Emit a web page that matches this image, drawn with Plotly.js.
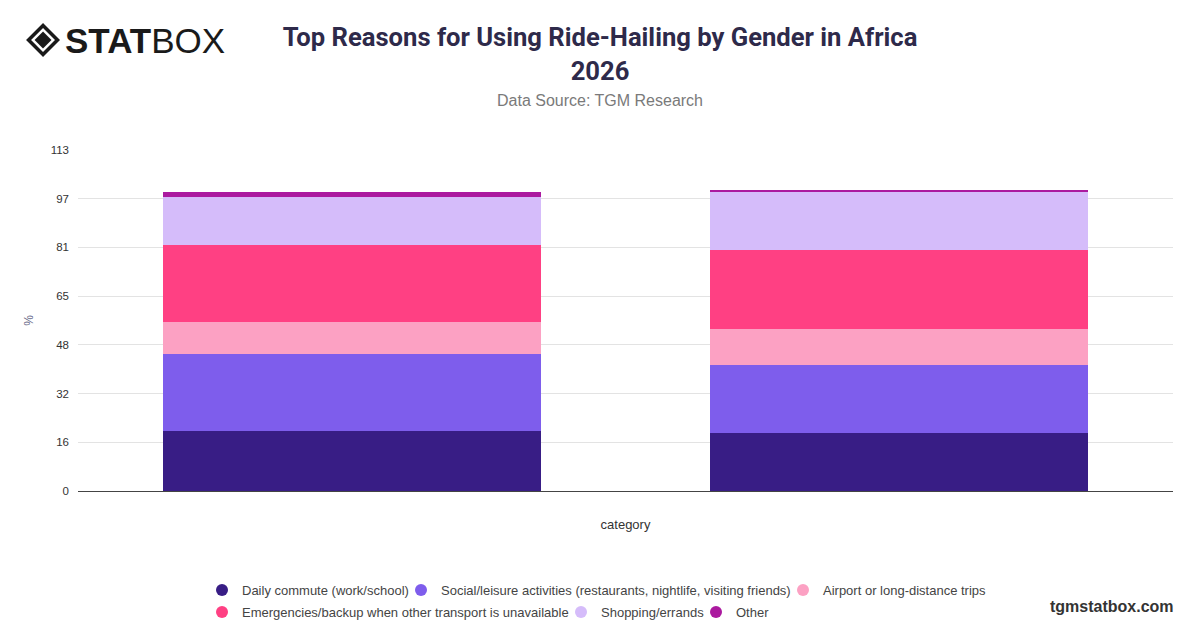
<!DOCTYPE html>
<html>
<head>
<meta charset="utf-8">
<script src="https://cdn.plot.ly/plotly-3.0.1.min.js"></script>
<style>
html,body{margin:0;padding:0;background:#fff;}
#chart{width:1200px;height:628px;}
</style>
</head>
<body>
<div id="chart"></div>
<script>
// Data
const categories = ["Male", "Female"];
const seriesNames = [
  "Daily commute (work/school)",
  "Social/leisure activities (restaurants, nightlife, visiting friends)",
  "Airport or long-distance trips",
  "Emergencies/backup when other transport is unavailable",
  "Shopping/errands",
  "Other"
];
const dailyCommute = [20.0, 19.2];
const socialLeisure = [25.3, 22.7];
const airportTrips = [10.6, 11.8];
const emergencies = [25.6, 26.3];
const shopping = [16.0, 19.2];
const other = [1.7, 0.6];
const yTickMax = 113;
const yTickCount = 7;

const seriesValues = [dailyCommute, socialLeisure, airportTrips, emergencies, shopping, other];
const colors = ["#381d85", "#7e5dec", "#fca1c3", "#ff4083", "#d5bcfa", "#ab1a9f"];

// legend entry layout (pixel position of each legend marker centre)
const legendMarkerX = [222, 421, 803, 222, 581, 716];
const legendRowY = [590, 590, 590, 612, 612, 612];

const traces = [];
seriesValues.forEach((vals, i) => {
  traces.push({
    type: "bar",
    x: categories,
    y: vals,
    name: seriesNames[i],
    marker: {color: colors[i], line: {width: 0}},
    showlegend: false,
    hoverinfo: "name+y"
  });
});
// legend entries with circular markers (one legend per entry for exact placement)
const legendIds = seriesValues.map((v, i) => i === 0 ? "legend" : "legend" + (i + 1));
seriesValues.forEach((vals, i) => {
  traces.push({
    type: "scatter",
    mode: "markers",
    x: [null],
    y: [null],
    name: seriesNames[i],
    legend: legendIds[i],
    marker: {color: colors[i], size: 14, symbol: "circle"},
    showlegend: true,
    hoverinfo: "skip"
  });
});

// helpers: pixel -> paper coords (plot area l=78, w=1096, top=150, bottom=491)
const PX = px => (px - 78) / 1096;
const PY = py => (491 - py) / 341;

function diamond(cx, cy, half) {
  const hx = half / 1096, hy = half / 341;
  const x = PX(cx), y = PY(cy);
  return `M ${x - hx} ${y} L ${x} ${y + hy} L ${x + hx} ${y} L ${x} ${y - hy} Z`;
}

const legendBase = {
  orientation: "h",
  xref: "container",
  yref: "container",
  xanchor: "left",
  yanchor: "middle",
  font: {size: 13, color: "#444444"},
  itemsizing: "constant",
  traceorder: "normal",
  bgcolor: "rgba(0,0,0,0)"
};

const layout = {
  width: 1200,
  height: 628,
  paper_bgcolor: "#ffffff",
  plot_bgcolor: "#ffffff",
  barmode: "stack",
  bargap: 0.31,
  margin: {l: 78, r: 27, t: 150, b: 137},
  font: {family: "Liberation Sans, Arial, sans-serif", color: "#333333", size: 12},
  title: {
    text: "<b>Top Reasons for Using Ride-Hailing by Gender in Africa<br>2026</b>",
    x: 0.5, xref: "container", xanchor: "center",
    y: 0.926, yref: "container", yanchor: "top",
    font: {family: "Roboto, Liberation Sans, sans-serif", size: 25.6, color: "#2e2a4a"}
  },
  xaxis: {
    type: "category",
    showticklabels: false,
    showgrid: false,
    showline: true,
    linecolor: "#444444",
    linewidth: 1,
    ticks: "",
    title: {text: "category", font: {size: 13, color: "#333333"}, standoff: 28},
    range: [-0.5, 1.5]
  },
  yaxis: {
    range: [0, yTickMax],
    tickmode: "linear",
    tick0: 0,
    dtick: yTickMax / yTickCount,
    tickformat: ".0f",
    showgrid: true,
    gridcolor: "#e3e3e3",
    gridwidth: 1,
    zeroline: false,
    showline: false,
    ticks: "",
    ticklabelstandoff: 8,
    tickfont: {size: 11.5, color: "#333333"},
    title: {text: "%", font: {size: 12, color: "#6a6a8a"}, standoff: 14}
  },
  annotations: [
    {
      text: "Data Source: TGM Research",
      xref: "paper", yref: "paper",
      x: PX(600), y: PY(101), xanchor: "center", yanchor: "middle",
      showarrow: false,
      font: {size: 16, color: "#7a7a7a"}
    },
    {
      text: "<b>tgmstatbox.com</b>",
      xref: "paper", yref: "paper",
      x: PX(1177), y: PY(606), xanchor: "right", yanchor: "middle",
      showarrow: false,
      font: {size: 16, color: "#333333"}
    },
    {
      text: "<b>STAT</b>BOX",
      xref: "paper", yref: "paper",
      x: PX(63), y: PY(40), xanchor: "left", yanchor: "middle",
      showarrow: false,
      font: {family: "Liberation Sans, Arial, sans-serif", size: 35, color: "#1a1a1a"}
    }
  ],
  shapes: [
    {type: "path", xref: "paper", yref: "paper", path: diamond(43, 40, 17), fillcolor: "#1a1a1a", line: {width: 0}},
    {type: "path", xref: "paper", yref: "paper", path: diamond(43, 40, 12), fillcolor: "#ffffff", line: {width: 0}},
    {type: "path", xref: "paper", yref: "paper", path: diamond(43, 40, 8.5), fillcolor: "#1a1a1a", line: {width: 0}}
  ]
};

legendIds.forEach((id, i) => {
  layout[id] = Object.assign({}, legendBase, {
    x: (legendMarkerX[i] - 20) / 1200,
    y: 1 - legendRowY[i] / 628
  });
});

Plotly.newPlot("chart", traces, layout, {displayModeBar: false, responsive: false});
</script>
</body>
</html>
